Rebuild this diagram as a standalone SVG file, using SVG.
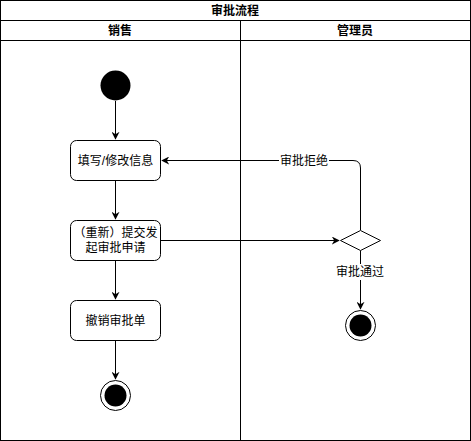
<svg xmlns="http://www.w3.org/2000/svg" width="471" height="441" viewBox="0 0 471 441">
<style>
text{font-family:"Liberation Sans","Noto Sans CJK SC",sans-serif;font-size:12px;fill:#000;text-anchor:middle;dominant-baseline:central}
.b{font-weight:bold}
.ln{fill:none;stroke:#000;stroke-width:1}
.box{fill:#fff;stroke:#000;stroke-width:1}
.lbl{fill:#fff;stroke:none}
</style>
<defs>
<marker id="ar" viewBox="0 0 10 10" refX="9" refY="5" markerWidth="8" markerHeight="8" markerUnits="userSpaceOnUse" orient="auto">
<path d="M0,0 L10,5 L0,10 L3,5 z" fill="#000"/>
</marker>
</defs>
<rect width="471" height="441" fill="#fff"/>
<g id="pool">
<rect x="0.5" y="0.5" width="470" height="440" class="ln"/>
<line x1="0.5" y1="20.5" x2="470.5" y2="20.5" class="ln"/>
<line x1="0.5" y1="40.5" x2="470.5" y2="40.5" class="ln"/>
<line x1="240.5" y1="20.5" x2="240.5" y2="440.5" class="ln"/>
<text x="235" y="11" class="b">审批流程</text>
<text x="120" y="31" class="b">销售</text>
<text x="355" y="31" class="b">管理员</text>
</g>
<g id="connectors">
<path d="M115.5,101 L115.5,139" class="ln" marker-end="url(#ar)"/>
<path d="M115.5,180.5 L115.5,219" class="ln" marker-end="url(#ar)"/>
<path d="M115.5,260.5 L115.5,299" class="ln" marker-end="url(#ar)"/>
<path d="M115.5,340.5 L115.5,379" class="ln" marker-end="url(#ar)"/>
<path d="M160.5,240.5 L339,240.5" class="ln" marker-end="url(#ar)"/>
<path d="M360.5,230 L360.5,168 Q360.5,160.5 353,160.5 L162,160.5" class="ln" marker-end="url(#ar)"/>
<path d="M360.5,250.5 L360.5,309" class="ln" marker-end="url(#ar)"/>
<rect x="279" y="153" width="50" height="16" class="lbl"/>
<text x="304" y="161">审批拒绝</text>
<rect x="335" y="264" width="50" height="16" class="lbl"/>
<text x="360" y="272">审批通过</text>
</g>
<g id="start"><circle cx="115.5" cy="85.5" r="15" fill="#000"/></g>
<g id="fill"><rect x="70.5" y="140.5" width="90" height="40" rx="6" class="box"/><text x="115.5" y="160.5">填写/修改信息</text></g>
<g id="submit"><rect x="70.5" y="220.5" width="90" height="40" rx="6" class="box"/><text x="115.5" y="233">（重新）提交发</text><text x="115.5" y="248">起审批申请</text></g>
<g id="cancel"><rect x="70.5" y="300.5" width="90" height="40" rx="6" class="box"/><text x="115.5" y="320.5">撤销审批单</text></g>
<g id="end1"><circle cx="115.5" cy="395.5" r="15" class="box"/><circle cx="115.5" cy="395.5" r="11" fill="#000"/></g>
<g id="decision"><path d="M340.5,240.5 L360.5,230.5 L380.5,240.5 L360.5,250.5 Z" class="box"/></g>
<g id="end2"><circle cx="360.5" cy="325.5" r="15" class="box"/><circle cx="360.5" cy="325.5" r="11" fill="#000"/></g>
</svg>
